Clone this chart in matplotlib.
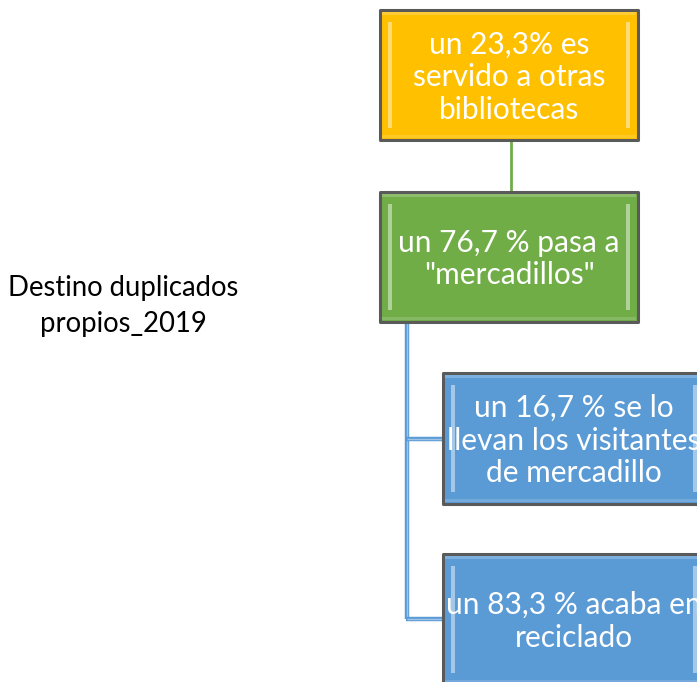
import matplotlib
matplotlib.use("Agg")
import matplotlib.pyplot as plt
from matplotlib.patches import Rectangle

# ---- data ----
node_labels = [
    "un 23,3% es\nservido a otras\nbibliotecas",
    "un 76,7 % pasa a\n\"mercadillos\"",
    "un 16,7 % se lo\nllevan los visitantes\nde mercadillo",
    "un 83,3 % acaba en\nreciclado",
]
node_colors = ["#FFC000", "#70AD47", "#5B9BD5", "#5B9BD5"]
title_text = "Destino duplicados\npropios_2019"

# ---- layout (pixels) ----
W, H = 697, 682
fig = plt.figure(figsize=(W / 100, H / 100), dpi=100)
ax = fig.add_axes([0, 0, 1, 1])
ax.set_xlim(0, W)
ax.set_ylim(H, 0)
ax.axis("off")

FONT = ["Lato", "DejaVu Sans"]

# box geometry: (x, y, w, h)
boxes = [
    (380, 10, 258, 130),
    (380, 192, 258, 130),
    (443, 373, 262, 131),
    (443, 554, 262, 131),
]

# connectors
ax.plot([511, 511], [140, 192], color="#70AD47", lw=2, zorder=1, solid_capstyle="butt")
ax.plot([407, 407], [322, 619], color="#5B9BD5", lw=3.2, zorder=1, solid_capstyle="butt")
ax.plot([407, 407], [322, 619], color="#9DC3E6", lw=1.0, zorder=1, solid_capstyle="butt")
for yy in (439, 619):
    ax.plot([405.5, 443], [yy, yy], color="#5B9BD5", lw=3.2, zorder=1, solid_capstyle="butt")
    ax.plot([407, 443], [yy, yy], color="#9DC3E6", lw=1.0, zorder=1, solid_capstyle="butt")


def lighten(c, f):
    c = matplotlib.colors.to_rgb(c)
    return tuple(1 - (1 - v) * (1 - f) for v in c)


for (x, y, w, h), lab, col in zip(boxes, node_labels, node_colors):
    ax.add_patch(Rectangle((x, y), w, h, facecolor=col, edgecolor="#5A5A5A",
                           lw=2.2, zorder=2, joinstyle="round"))
    # bevel highlights
    ax.add_patch(Rectangle((x + 2, y + 2), w - 4, 3, facecolor=lighten(col, 0.2),
                           edgecolor="none", zorder=3))
    ax.add_patch(Rectangle((x + 8, y + 12), 4, h - 24, facecolor=lighten(col, 0.45),
                           edgecolor="none", zorder=3))
    ax.add_patch(Rectangle((x + w - 12, y + 12), 4, h - 24, facecolor=lighten(col, 0.45),
                           edgecolor="none", zorder=3))
    ax.add_patch(Rectangle((x + 2, y + h - 5), w - 4, 3, facecolor=lighten(col, 0.15),
                           edgecolor="none", zorder=3))
    ax.text(x + w / 2, y + h / 2 + 2, lab, ha="center", va="center", color="white",
            fontsize=21.5, family=FONT, linespacing=1.2, zorder=4, clip_on=True)

ax.text(123, 306, title_text, ha="center", va="center", color="black",
        fontsize=19.8, family=FONT, linespacing=1.5)

fig.savefig("out.png", dpi=100)
